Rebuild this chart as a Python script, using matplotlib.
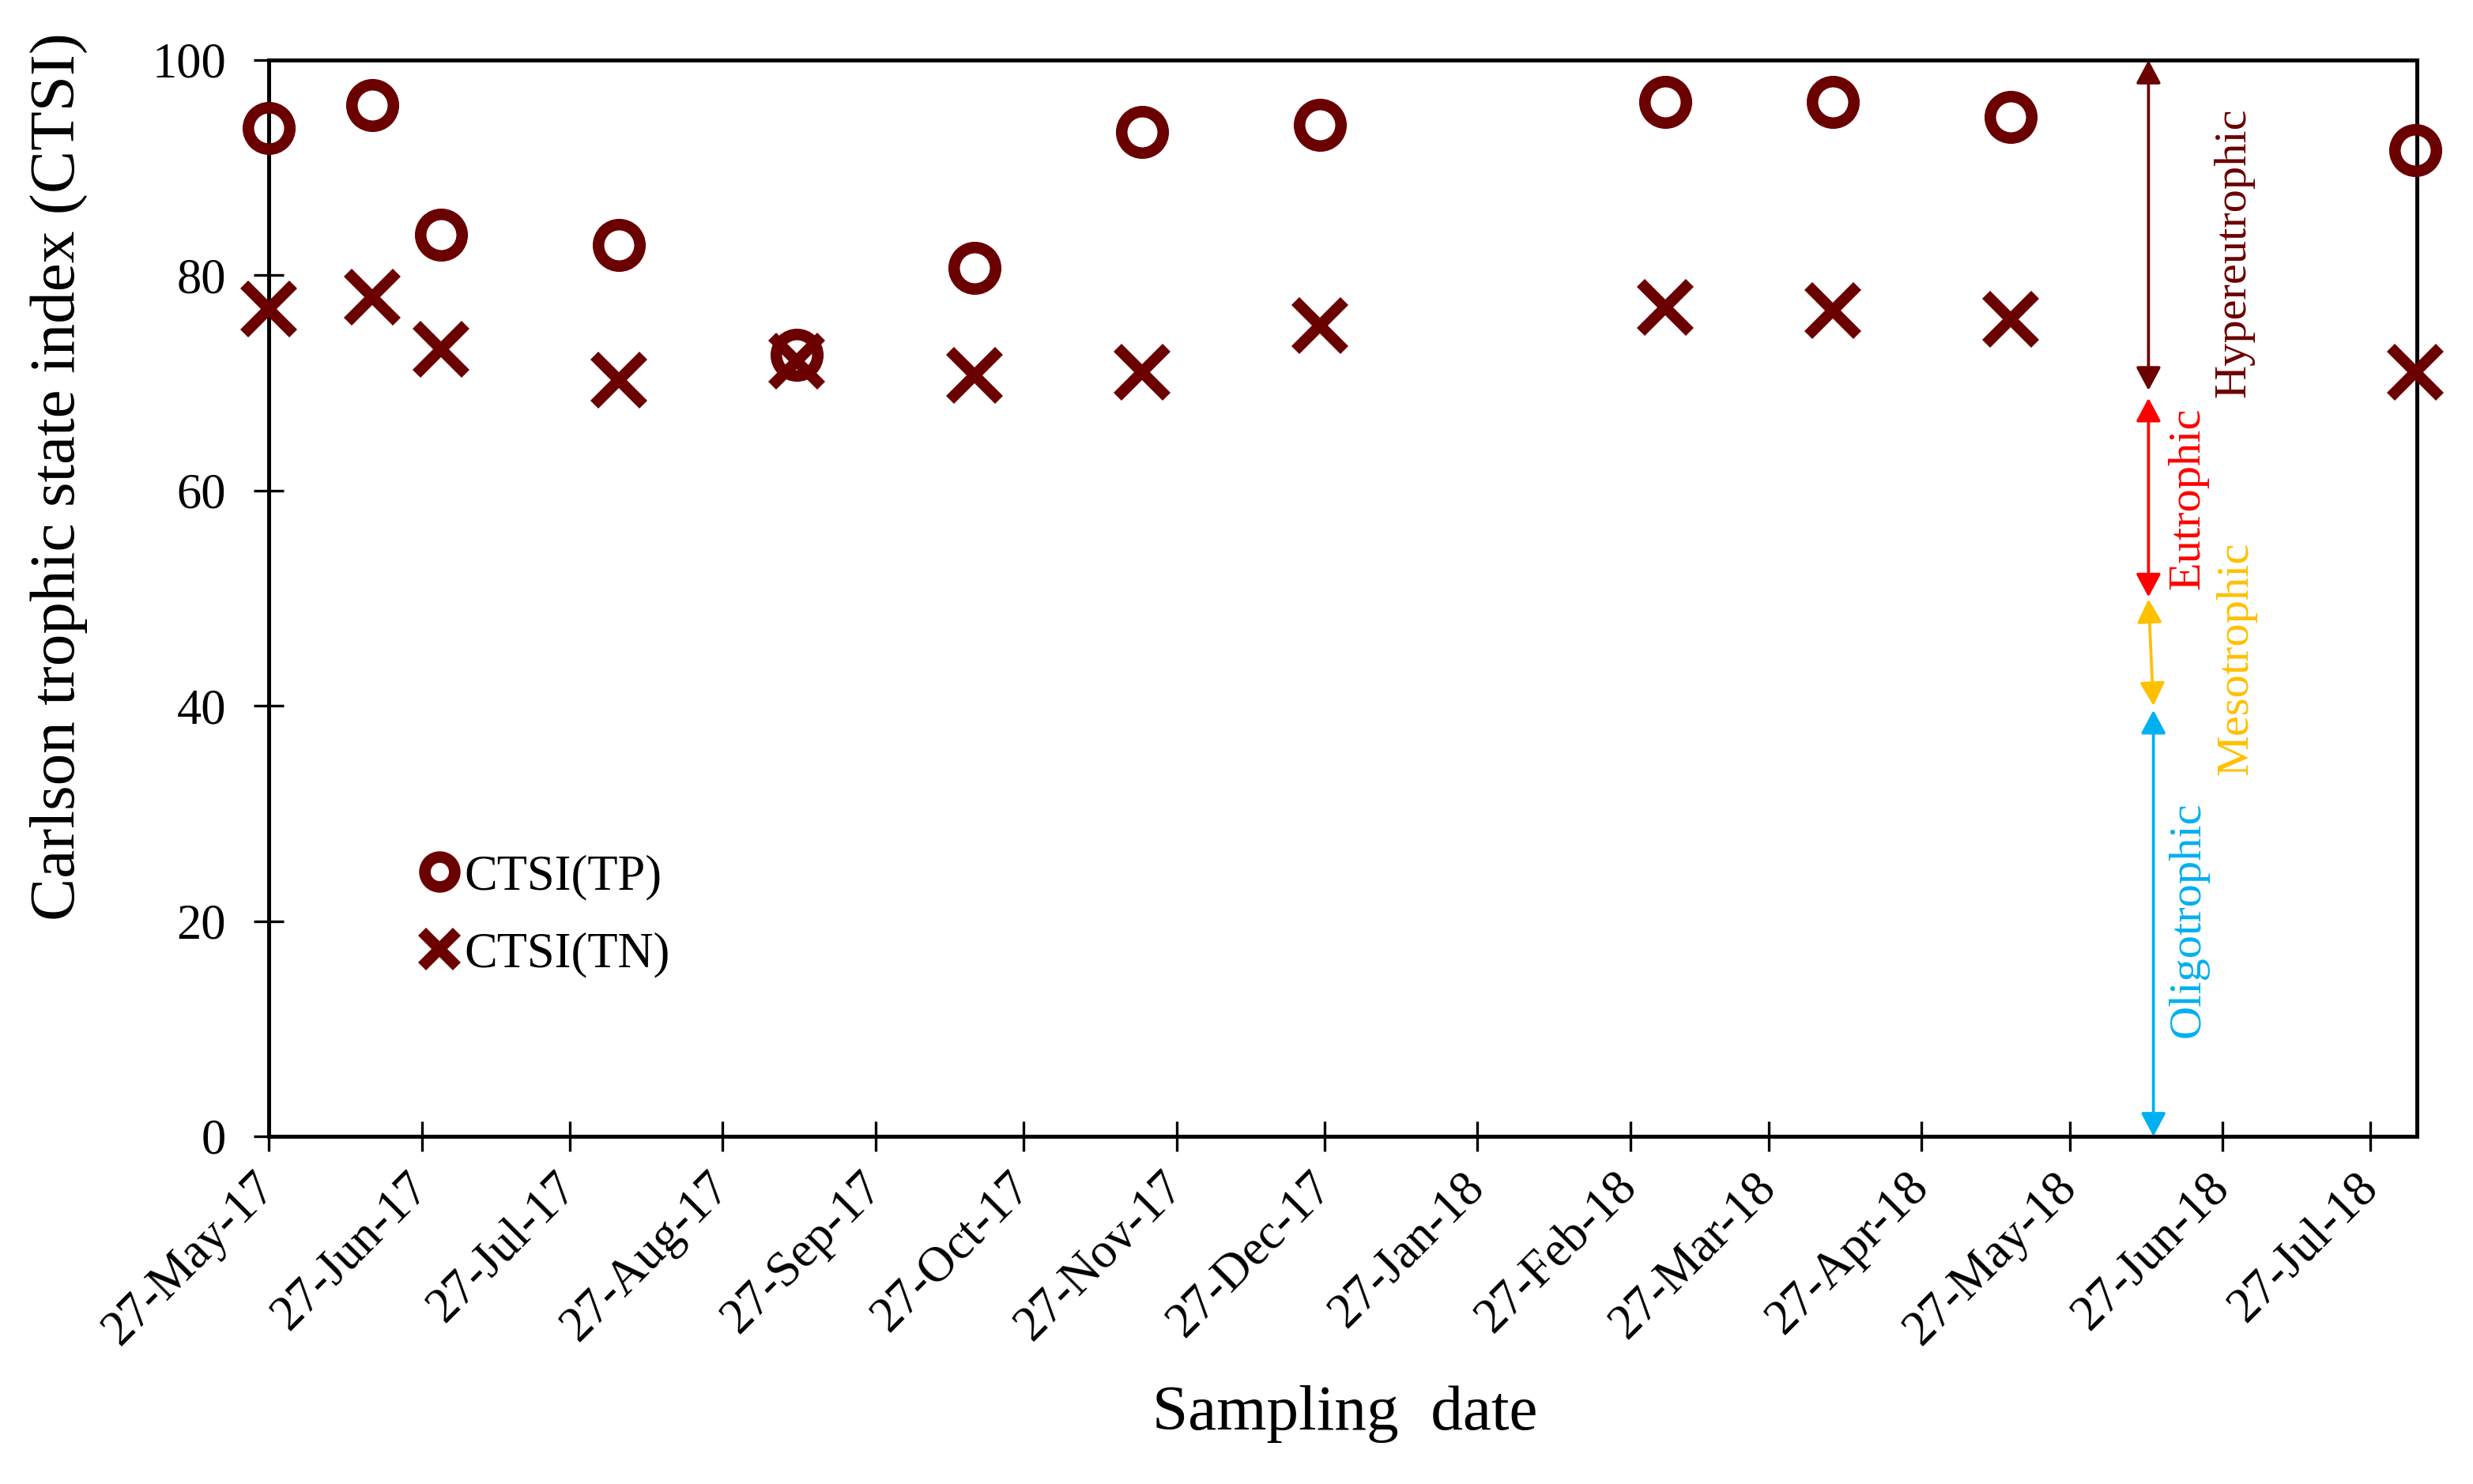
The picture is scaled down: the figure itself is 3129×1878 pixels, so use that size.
import matplotlib
matplotlib.use("Agg")
import matplotlib.pyplot as plt
import matplotlib.dates as mdates
import numpy as np
import datetime as dt

# ---------------- data ----------------
sample_dates = ["2017-05-27", "2017-06-17", "2017-07-01", "2017-08-06", "2017-09-11",
                "2017-10-17", "2017-11-20", "2017-12-26", "2018-03-06", "2018-04-09",
                "2018-05-15", "2018-08-05"]
ctsi_tp = [93.7, 95.8, 83.8, 82.8, 72.6, 80.7, 93.3, 94.0, 96.1, 96.1, 94.7, 91.6]
ctsi_tn = [76.9, 78.0, 73.1, 70.3, 72.0, 70.7, 71.0, 75.3, 77.0, 76.7, 75.9, 71.0]

tick_dates = ["2017-05-27", "2017-06-27", "2017-07-27", "2017-08-27", "2017-09-27",
              "2017-10-27", "2017-11-27", "2017-12-27", "2018-01-27", "2018-02-27",
              "2018-03-27", "2018-04-27", "2018-05-27", "2018-06-27", "2018-07-27"]
y_ticks = [0, 20, 40, 60, 80, 100]

# trophic classes: label, lower, upper, colour
class_names = ["Hypereutrophic", "Eutrophic", "Mesotrophic", "Oligotrophic"]
class_low = [69.3, 50.1, 40.0, 0.0]
class_high = [100.0, 68.6, 49.9, 39.6]
class_colors = ["#6B0000", "#FF0000", "#FFC000", "#00B0F0"]

dark_red = "#6B0000"

plt.rcParams['font.family'] = ['Liberation Serif', 'DejaVu Serif']

def d2n(s):
    return mdates.date2num(dt.datetime.fromisoformat(s))

x = [d2n(s) for s in sample_dates]

fig = plt.figure(figsize=(3129 / 300, 1878 / 300), dpi=300)
ax = fig.add_axes([340 / 3129, 1 - 1438 / 1878, (3058 - 340) / 3129, (1438 - 76) / 1878])

ax.plot(x, ctsi_tp, linestyle='none', marker='o', markersize=12.6, markeredgewidth=3.5,
        markerfacecolor='none', markeredgecolor=dark_red, label='CTSI(TP)', clip_on=False, zorder=3)
ax.plot(x, ctsi_tn, linestyle='none', marker='x', markersize=14.9, markeredgewidth=3.4,
        color=dark_red, label='CTSI(TN)', clip_on=False, zorder=3)

# trophic class arrows
arrow_x_top = [d2n("2018-06-12")] * 3 + [d2n("2018-06-13")]
arrow_x_bot = [d2n("2018-06-12"), d2n("2018-06-12"), d2n("2018-06-13"), d2n("2018-06-13")]
text_x = [d2n("2018-06-29") + 0.3, d2n("2018-06-20"), d2n("2018-06-29") + 0.8, d2n("2018-06-20")]
text_y = [82.1, 59.3, 44.4, 20.1]
for name, lo, hi, col, xt, xb, tx, ty in zip(class_names, class_low, class_high, class_colors,
                                             arrow_x_top, arrow_x_bot, text_x, text_y):
    ax.annotate('', xy=(xt, hi), xytext=(xb, lo),
                arrowprops=dict(arrowstyle='<|-|>,head_length=0.6,head_width=0.32',
                                mutation_scale=10, lw=0.9, color=col,
                                shrinkA=0, shrinkB=0),
                annotation_clip=False)
    ax.text(tx, ty, name, rotation=90, ha='center', va='center', color=col, fontsize=14)

ax.set_xlim(d2n("2017-05-27"), d2n("2018-08-05") + 0.4)
ax.set_ylim(0, 100)
ax.set_xticks([d2n(s) for s in tick_dates])
ax.xaxis.set_major_formatter(mdates.DateFormatter('%d-%b-%y'))
ax.set_yticks(y_ticks)

for lab in ax.get_xticklabels():
    lab.set_rotation(45)
    lab.set_ha('right')
    lab.set_va('center')
    lab.set_rotation_mode('anchor')

ax.tick_params(axis='both', direction='inout', length=9, width=0.8, labelsize=15,
               top=False, right=False)
ax.tick_params(axis='x', pad=9)
ax.tick_params(axis='y', pad=8.5)
for sp in ax.spines.values():
    sp.set_linewidth(1.2)

ax.set_ylabel('Carlson trophic state index (CTSI)', fontsize=19.5)
ax.yaxis.set_label_coords(-0.0843, 0.613)
ax.set_xlabel('Sampling  date', fontsize=19.5)
ax.xaxis.set_label_coords(0.501, -0.231)

ax.legend(loc='upper left', bbox_to_anchor=(0.0703, 0.262), frameon=False, fontsize=15,
          markerscale=0.72, handlelength=0.8, handletextpad=0.1, borderpad=0,
          borderaxespad=0, labelspacing=0.64)

fig.savefig('out.png', dpi=300)
